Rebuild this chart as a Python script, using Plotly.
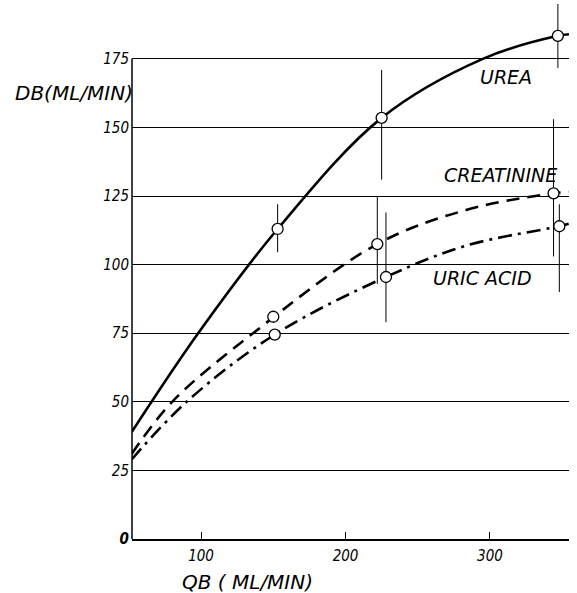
import plotly.graph_objects as go

urea_x = [153, 225, 347]
urea_y = [113, 153.5, 183.4]
urea_err_plus = [9, 17.5, 11.6]
urea_err_minus = [8.5, 22.5, 11.7]

creat_x = [150, 222, 344]
creat_y = [81, 107.5, 126]
creat_err_plus = [0, 17.5, 27]
creat_err_minus = [0, 14.5, 23]

uric_x = [151, 228, 348]
uric_y = [74.5, 95.5, 114]
uric_err_plus = [0, 23.5, 8]
uric_err_minus = [0, 16.5, 24]

# Drawn curves
urea_cx = [52, 98, 153, 225, 295, 347, 355]
urea_cy = [39, 75, 113, 153.5, 175, 183.4, 184]

creat_cx = [52, 80, 136, 222, 284, 344, 355]
creat_cy = [31, 50, 75, 107.5, 120, 126, 126.5]

uric_cx = [52, 90, 151, 228, 284, 348, 355]
uric_cy = [29, 50, 74.5, 95.5, 107, 114, 115]

y_ticks = [0, 25, 50, 75, 100, 125, 150, 175]
y_ticktext = ["<b>0</b>", "25", "50", "75", "100", "125", "150", "175"]
x_ticks = [100, 200, 300]
x_ticktext = ["100", "200", "300"]

labels = ["UREA", "CREATININE", "URIC ACID"]
label_x = [311, 307, 294.5]
label_y = [168.4, 132.7, 95.1]

FONT = "DejaVu Sans Condensed, Liberation Sans Narrow, DejaVu Sans, sans-serif"
LFONT = "DejaVu Sans, sans-serif"

fig = go.Figure()

fig.add_trace(go.Scatter(x=urea_cx, y=urea_cy, mode="lines", line_shape="spline",
                         line=dict(color="black", width=2.6), showlegend=False))
fig.add_trace(go.Scatter(x=creat_cx, y=creat_cy, mode="lines", line_shape="spline",
                         line=dict(color="black", width=2.6, dash="13px,8px"), showlegend=False))
fig.add_trace(go.Scatter(x=uric_cx, y=uric_cy, mode="lines", line_shape="spline",
                         line=dict(color="black", width=2.6, dash="14px,6px,3px,6px"), showlegend=False))

for xs, ys, ep, em in [(urea_x, urea_y, urea_err_plus, urea_err_minus),
                       (creat_x, creat_y, creat_err_plus, creat_err_minus),
                       (uric_x, uric_y, uric_err_plus, uric_err_minus)]:
    fig.add_trace(go.Scatter(
        x=xs, y=ys, mode="markers",
        marker=dict(symbol="circle", size=11, color="white", line=dict(color="black", width=1.3)),
        error_y=dict(type="data", symmetric=False, array=ep, arrayminus=em,
                     color="black", thickness=1, width=0),
        showlegend=False))

for t, x, y in zip(labels, label_x, label_y):
    fig.add_annotation(x=x, y=y, text=t, showarrow=False, xanchor="center", yanchor="middle",
                       font=dict(family=LFONT, size=19, color="black", style="italic"))

fig.add_annotation(xref="paper", x=0, xanchor="right", xshift=3, yref="y", y=162.5,
                   yanchor="middle", text="DB(ML/MIN)", showarrow=False,
                   font=dict(family=LFONT, size=20, color="black", style="italic"))
fig.add_annotation(xref="x", x=132, xanchor="center", yref="paper", y=0, yshift=-43,
                   yanchor="middle", text="QB ( ML/MIN)", showarrow=False,
                   font=dict(family=LFONT, size=20, color="black", style="italic"))

# y axis line only up to 175
fig.add_shape(type="line", xref="paper", x0=0, x1=0, yref="y", y0=0, y1=175,
              line=dict(color="black", width=1.5))

fig.update_xaxes(range=[52.2, 354.7], tickvals=x_ticks, ticktext=x_ticktext,
                 ticks="inside", ticklen=7, tickcolor="black", tickwidth=1.2,
                 showline=True, linecolor="black", linewidth=1.5, showgrid=False, zeroline=False,
                 tickfont=dict(family=FONT, size=15, color="black", style="italic"),
                 ticklabelstandoff=2)
fig.update_yaxes(range=[0, 195], tickvals=y_ticks, ticktext=y_ticktext,
                 ticks="", showline=False, showgrid=True, gridcolor="black", gridwidth=1,
                 zeroline=False,
                 tickfont=dict(family=FONT, size=15, color="black", style="italic"),
                 ticklabelstandoff=2)

fig.update_layout(width=577, height=593, margin=dict(l=132, r=8, t=4, b=54),
                  paper_bgcolor="white", plot_bgcolor="white", showlegend=False)

fig.write_html("out.html", config={"displayModeBar": False},
               post_script="document.body.style.margin='0';")
